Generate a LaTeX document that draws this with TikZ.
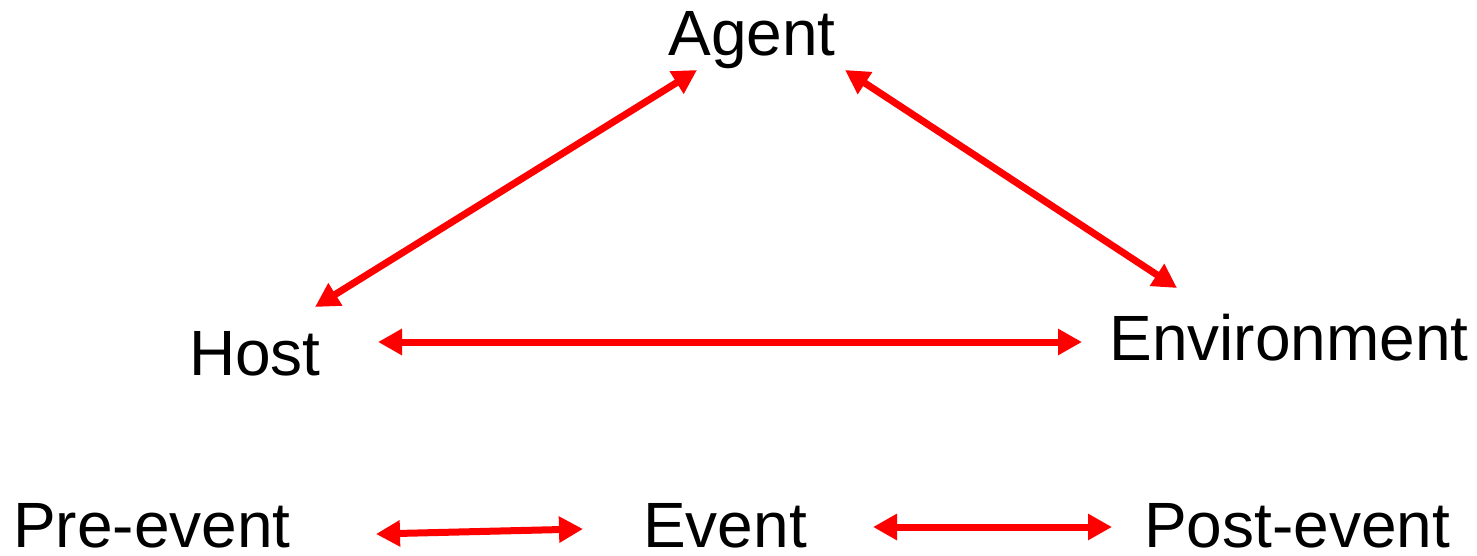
\documentclass[tikz,border=0pt]{standalone}
\usepackage{fontspec}
\setmainfont{Liberation Sans}
\usetikzlibrary{arrows.meta}
\begin{document}
\begin{tikzpicture}[x=1pt,y=-1pt,
  lbl/.style={anchor=base,inner sep=0pt,font=\fontsize{64}{70}\selectfont},
  flat/.style={text depth=0pt},
  link/.style={draw=red,line width=7pt,{Triangle[length=24pt,width=25pt]}-{Triangle[length=24pt,width=25pt]}}]
\useasboundingbox (0,0) rectangle (1477,556);
\node[lbl] (agent) at (752,56) {Agent};
\node[lbl] (host) at (255,375) {Host};
\node[lbl] (env) at (1289,360) {Environment};
\node[lbl,flat] (pre) at (152,547) {Pre-event};
\node[lbl,flat] (event) at (725,547) {Event};
\node[lbl,flat] (post) at (1297,547) {Post-event};
\coordinate (ha1) at (315,307);
\coordinate (ha2) at (697,70);
\coordinate (ae1) at (845,70);
\coordinate (ae2) at (1177,288);
\coordinate (he1) at (378,342);
\coordinate (he2) at (1082,342);
\coordinate (pe1) at (376,534);
\coordinate (pe2) at (583,529);
\coordinate (ep1) at (873,527);
\coordinate (ep2) at (1112,527);
\draw[link] (ha1) -- (ha2);
\draw[link] (ae1) -- (ae2);
\draw[link] (he1) -- (he2);
\draw[link] (pe1) -- (pe2);
\draw[link] (ep1) -- (ep2);
\end{tikzpicture}
\end{document}
